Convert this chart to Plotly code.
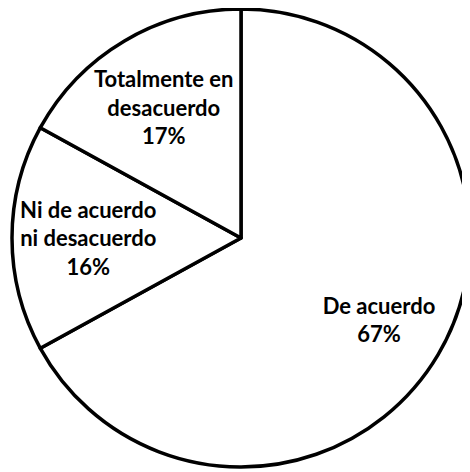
import plotly.graph_objects as go

labels = ["De acuerdo", "Ni de acuerdo<br>ni desacuerdo", "Totalmente en<br>desacuerdo"]
values = [67, 16, 17]
pct_labels = ["67%", "16%", "17%"]

texts = [f"{l}<br>{p}" for l, p in zip(labels, pct_labels)]
# the large slice's label is drawn by a transparent ring overlay so it sits further out
main_texts = ["", texts[1], texts[2]]
ring_texts = [texts[0], "", ""]

W, H = 462, 464
dom = dict(x=[4 / W, 462 / W], y=[(H - 459) / H, (H - 1) / H])
font = dict(family="Lato", size=22, color="black", weight="bold")

fig = go.Figure()
fig.add_trace(go.Pie(
    labels=labels,
    values=values,
    text=main_texts,
    textinfo="text",
    textposition="inside",
    insidetextorientation="horizontal",
    sort=False,
    direction="clockwise",
    rotation=0,
    marker=dict(colors=["white"] * 3, line=dict(color="black", width=3.5)),
    textfont=font,
    domain=dom,
    showlegend=False,
    hoverinfo="skip",
))
fig.add_trace(go.Pie(
    labels=labels,
    values=values,
    text=ring_texts,
    textinfo="text",
    textposition="inside",
    insidetextorientation="horizontal",
    sort=False,
    direction="clockwise",
    rotation=0,
    hole=0.4,
    marker=dict(colors=["rgba(0,0,0,0)"] * 3, line=dict(width=0)),
    textfont=font,
    domain=dom,
    showlegend=False,
    hoverinfo="skip",
))

fig.update_layout(
    width=W, height=H,
    margin=dict(l=0, r=0, t=0, b=0),
    paper_bgcolor="white",
    plot_bgcolor="white",
    uniformtext=dict(minsize=22, mode="show"),
)

fig.write_html("out.html")
